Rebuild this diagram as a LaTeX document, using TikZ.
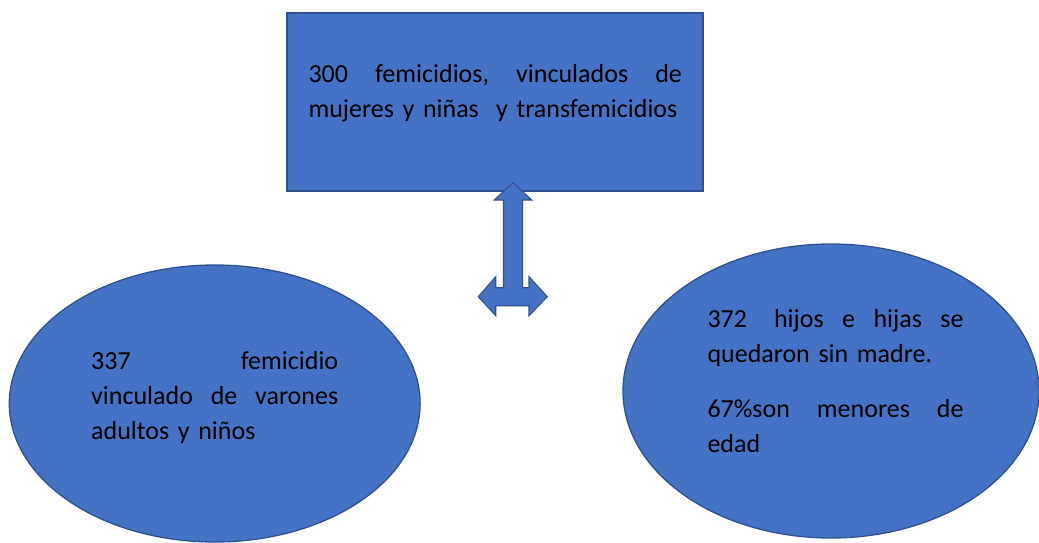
\documentclass[tikz,border=0pt]{standalone}
\usepackage{fontspec}
\setmainfont{Carlito}
\definecolor{boxfill}{HTML}{4472C4}
\definecolor{boxline}{HTML}{2F528F}
\begin{document}
\begin{tikzpicture}[x=1pt,y=-1pt,
  shapestyle/.style={fill=boxfill,draw=boxline,line width=1.3pt},
  txt/.style={anchor=base west,inner sep=0pt,align=left,text=black,
    font=\fontsize{26}{35}\selectfont}]
\useasboundingbox (0,0) rectangle (1039,543);
% top rectangle
\node[shapestyle,rectangle,minimum width=416pt,minimum height=178pt,inner sep=0pt] (top) at (495,102) {};
% ellipses
\draw[shapestyle] (214.7,403.5) ellipse [x radius=205.4,y radius=138.5];
\coordinate (lefte) at (214.7,403.5);
\draw[shapestyle] (831,391) ellipse [x radius=208,y radius=147];
\coordinate (righte) at (831,391);
% block arrow
\draw[shapestyle,line width=1.1pt,line join=miter]
  (513,182.7) -- (531.7,200) -- (522.5,200) -- (522.5,287.7) -- (529,287.7)
  -- (529,276.7) -- (547.3,296.7) -- (529,315.7) -- (529,305.7) -- (495.7,305.7)
  -- (495.7,315.7) -- (478.3,296.7) -- (495.7,276.7) -- (495.7,287.7)
  -- (503.5,287.7) -- (503.5,200) -- (494.3,200) -- cycle;
% texts
\node[txt,text width=373.5pt] (toptext) at (308.3,82.7)
  {300\hfill femicidios,\hfill vinculados\hfill de\\
   \mbox{mujeres y niñas\ \ y transfemicidios}};
\node[txt,text width=247pt] (lefttext) at (91,369)
  {337\hfill femicidio\\
   vinculado\hfill de\hfill varones\\
   \mbox{adultos y niños}};
\node[txt,text width=256pt] (righttext) at (707.3,327)
  {372\ \hfill hijos\hfill e\hfill hijas\hfill se\\
   \mbox{quedaron sin madre.}\\[20pt]
   67\%son\hfill menores\hfill de\\
   edad};
\end{tikzpicture}
\end{document}
